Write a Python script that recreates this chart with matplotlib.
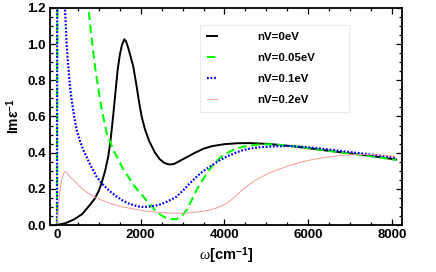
import numpy as np
import matplotlib
matplotlib.use('Agg')
import matplotlib.pyplot as plt
from matplotlib.ticker import MultipleLocator, FormatStrFormatter

plt.rcParams['font.family'] = ['Liberation Sans', 'DejaVu Sans']
plt.rcParams['mathtext.fontset'] = 'custom'
plt.rcParams['mathtext.rm'] = 'Liberation Sans:bold'
plt.rcParams['mathtext.bf'] = 'Liberation Sans:bold'
plt.rcParams['mathtext.it'] = 'Liberation Serif:italic'

# nV = 0 eV
w_0 = [0, 200, 400, 600, 800, 900, 1000, 1070, 1150, 1225, 1280, 1340, 1390, 1450, 1500,
       1550, 1607, 1650, 1700, 1760, 1822, 1900, 1960, 2022, 2100, 2200, 2340, 2450, 2550,
       2650, 2720, 2800, 2937, 3100, 3300, 3500, 3700, 4000, 4300, 4600, 5000, 5300, 5565,
       6000, 6500, 7000, 7500, 8100]
v_0 = [0, 0.01, 0.03, 0.06, 0.115, 0.145, 0.19, 0.235, 0.30, 0.38, 0.47, 0.60, 0.72, 0.86, 0.94,
       0.995, 1.027, 1.015, 0.98, 0.93, 0.876, 0.77, 0.68, 0.60, 0.53, 0.465, 0.40, 0.365, 0.345,
       0.336, 0.335, 0.338, 0.355, 0.375, 0.40, 0.422, 0.436, 0.447, 0.452, 0.453, 0.449, 0.443, 0.437,
       0.425, 0.41, 0.396, 0.382, 0.362]

# nV = 0.05 eV
w_05 = [0, 15, 300, 600, 750, 830, 907, 990, 1067, 1186, 1345, 1500, 1600, 1703, 1800,
        1900, 2061, 2200, 2340, 2450, 2550, 2650, 2750, 2850, 2950, 3020, 3097, 3200, 3336,
        3450, 3550, 3654, 3750, 3850, 3950, 4052, 4250, 4450, 4650, 4848, 5200, 5600, 6000,
        6500, 7000, 7500, 8100]
v_05 = [0, 2.5, 2.5, 1.55, 1.2, 1.03, 0.876, 0.75, 0.64, 0.51, 0.415, 0.345, 0.30, 0.267, 0.23,
        0.20, 0.157, 0.12, 0.083, 0.06, 0.045, 0.036, 0.032, 0.033, 0.042, 0.06, 0.083, 0.13, 0.194,
        0.24, 0.275, 0.31, 0.34, 0.362, 0.382, 0.397, 0.42, 0.433, 0.441, 0.446, 0.445, 0.437, 0.425,
        0.41, 0.395, 0.38, 0.36]

# nV = 0.1 eV
w_1 = [0, 10, 100, 160, 191, 230, 270, 310, 350, 410, 470, 550, 628, 700, 800, 947, 1070,
       1200, 1300, 1425, 1550, 1700, 1850, 1982, 2100, 2200, 2330, 2460, 2560, 2650, 2750,
       2858, 2950, 3050, 3150, 3255, 3350, 3450, 3550, 3654, 3850, 4052, 4250, 4450, 4650,
       4848, 5200, 5565, 6000, 6500, 7000, 7500, 8100]
v_1 = [0, 3.0, 2.5, 1.6, 1.2, 1.0, 0.876, 0.77, 0.69, 0.60, 0.525, 0.465, 0.415, 0.38, 0.33, 0.267, 0.23,
       0.20, 0.18, 0.157, 0.138, 0.12, 0.108, 0.101, 0.10, 0.102, 0.106, 0.113, 0.122, 0.132, 0.143,
       0.157, 0.178, 0.20, 0.225, 0.249, 0.27, 0.29, 0.307, 0.323, 0.353, 0.378, 0.398, 0.415, 0.424,
       0.43, 0.435, 0.437, 0.43, 0.417, 0.403, 0.39, 0.373]

# nV = 0.2 eV
w_2 = [0, 15, 30, 50, 72, 100, 130, 160, 191, 220, 260, 300, 350, 430, 510, 620, 750, 900,
       1067, 1300, 1545, 1800, 2100, 2400, 2740, 3000, 3200, 3400, 3654, 3850, 3950, 4052,
       4150, 4250, 4350, 4450, 4550, 4650, 4750, 4848, 5050, 5246, 5565, 5800, 6120, 6500,
       6918, 7200, 7474, 7800, 8070]
v_2 = [0, 0.04, 0.083, 0.14, 0.194, 0.235, 0.265, 0.285, 0.295, 0.292, 0.28, 0.27, 0.258, 0.24, 0.221,
       0.197, 0.175, 0.155, 0.138, 0.117, 0.101, 0.09, 0.078, 0.07, 0.065, 0.065, 0.068, 0.073, 0.083,
       0.097, 0.107, 0.12, 0.137, 0.157, 0.178, 0.198, 0.217, 0.234, 0.249, 0.262, 0.285, 0.304, 0.33, 0.346,
       0.363, 0.377, 0.387, 0.39, 0.391, 0.386, 0.378]

fig = plt.figure(figsize=(4.36, 2.72), dpi=100)
ax = fig.add_axes([50 / 436, 47 / 272, 352 / 436, 217 / 272])

ax.plot(w_0, v_0, c='black', lw=1.4, label='nV=0eV')
ax.plot(w_05, v_05, c='#00ff00', lw=1.5, ls=(0, (4, 2.2)), label='nV=0.05eV')
ax.plot(w_1, v_1, c='#0000ff', lw=1.6, ls=(0, (0.8, 0.8)), label='nV=0.1eV')
ax.plot(w_2, v_2, c='#f59a9a', lw=0.7, label='nV=0.2eV')

ax.set_xlim(-167, 8240)
ax.set_ylim(0, 1.2)
ax.xaxis.set_major_locator(MultipleLocator(2000))
ax.xaxis.set_minor_locator(MultipleLocator(500))
ax.yaxis.set_major_locator(MultipleLocator(0.2))
ax.yaxis.set_minor_locator(MultipleLocator(0.05))
ax.yaxis.set_major_formatter(FormatStrFormatter('%.1f'))
ax.tick_params(which='both', direction='in', top=True, right=True, width=0.9)
ax.tick_params(which='major', length=4, labelsize=9.5, pad=3)
ax.tick_params(which='minor', length=2)
for lab in ax.get_xticklabels() + ax.get_yticklabels():
    lab.set_fontweight('bold')
for s in ax.spines.values():
    s.set_linewidth(1.3)

ax.set_xlabel(r'$\mathit{\omega}$[cm$^{-1}$]', fontsize=10.5, fontweight='bold', labelpad=3)
ax.set_ylabel('Imε$^{-1}$', fontsize=10, fontweight='bold', labelpad=4)

leg = ax.legend(loc='upper left', bbox_to_anchor=(150 / 352, 0, 149 / 352, 1 - 17 / 217),
                mode='expand', fontsize=8.2, handlelength=0.85, handletextpad=3.5,
                borderpad=0.65, labelspacing=0.95, frameon=True, fancybox=False,
                borderaxespad=0)
leg.get_frame().set_edgecolor('#e6e6e6')
leg.get_frame().set_linewidth(0.8)
for t in leg.get_texts():
    t.set_fontweight('bold')

plt.savefig('out.png', dpi=100)
